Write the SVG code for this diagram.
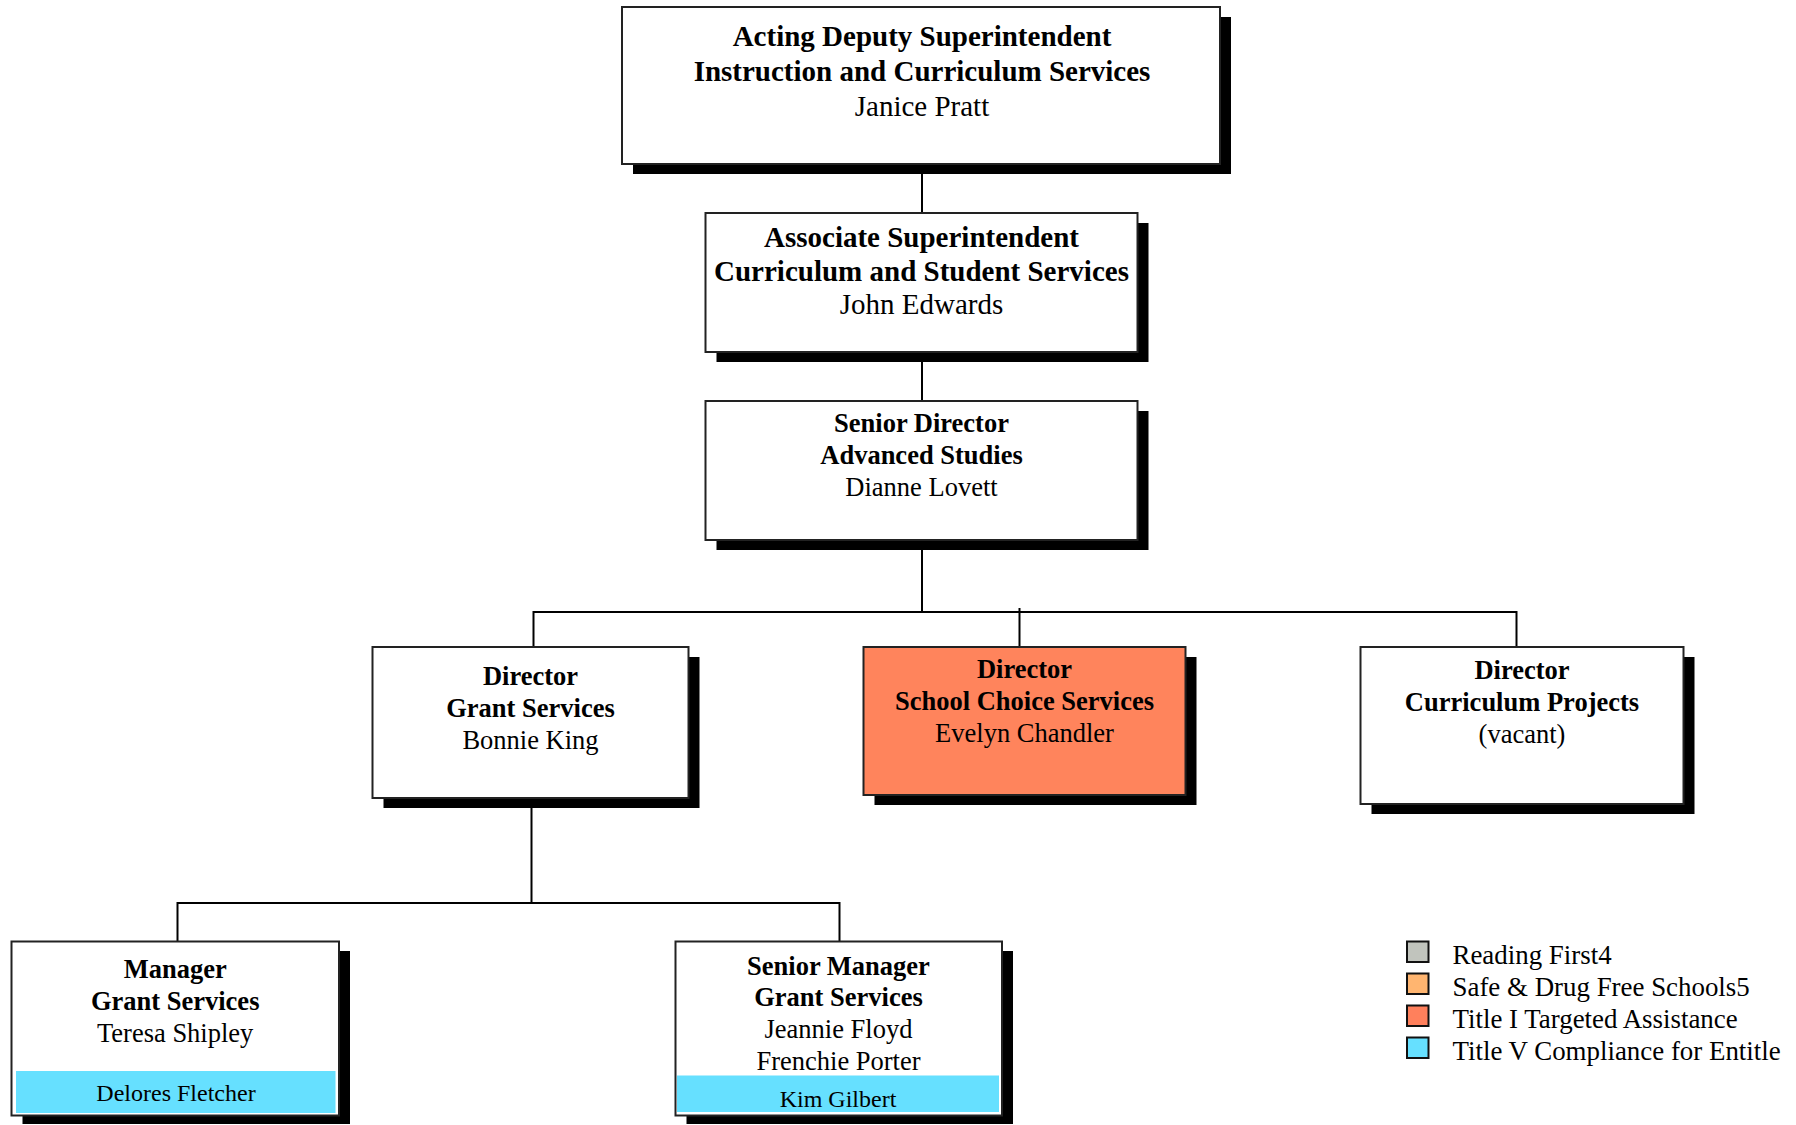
<svg xmlns="http://www.w3.org/2000/svg" width="1796" height="1125" viewBox="0 0 1796 1125">
<style>
.box{fill:#fff;stroke:#222;stroke-width:2}
.sh{fill:#000}
.t{font-family:"Liberation Serif","Times New Roman",serif;fill:#000;text-anchor:middle}
.b{font-weight:bold}
.big{font-size:29px}
.n{font-size:26.5px}
.s{font-size:24px}
.ln{stroke:#000;stroke-width:2;fill:none}
.lg{font-family:"Liberation Serif","Times New Roman",serif;font-size:26.9px;fill:#000}
.sw{stroke:#111;stroke-width:2}
</style>
<rect width="1796" height="1125" fill="#fff"/>
<g id="connectors">
<line class="ln" x1="922" y1="164" x2="922" y2="213"/>
<line class="ln" x1="922" y1="352" x2="922" y2="401"/>
<line class="ln" x1="922" y1="540" x2="922" y2="612"/>
<line class="ln" x1="533.5" y1="612" x2="1516.5" y2="612"/>
<line class="ln" x1="533.5" y1="611" x2="533.5" y2="647"/>
<line class="ln" x1="1019.5" y1="608" x2="1019.5" y2="647"/>
<line class="ln" x1="1516.5" y1="611" x2="1516.5" y2="647"/>
<line class="ln" x1="531.5" y1="808" x2="531.5" y2="903"/>
<line class="ln" x1="177.5" y1="903" x2="839.5" y2="903"/>
<line class="ln" x1="177.5" y1="902" x2="177.5" y2="941"/>
<line class="ln" x1="839.5" y1="902" x2="839.5" y2="941"/>
</g>
<g id="n1">
<rect class="sh" x="633" y="17" width="598" height="157"/>
<rect class="box" x="622" y="7" width="598" height="157"/>
<text class="t b big" x="922" y="46">Acting Deputy Superintendent</text>
<text class="t b big" x="922" y="80.5">Instruction and Curriculum Services</text>
<text class="t big" x="922" y="115.5">Janice Pratt</text>
</g>
<g id="n2">
<rect class="sh" x="716.5" y="223" width="432" height="139"/>
<rect class="box" x="705.5" y="213" width="432" height="139"/>
<text class="t b big" x="921.5" y="247">Associate Superintendent</text>
<text class="t b big" x="921.5" y="281">Curriculum and Student Services</text>
<text class="t big" x="921.5" y="314">John Edwards</text>
</g>
<g id="n3">
<rect class="sh" x="716.5" y="411" width="432" height="139"/>
<rect class="box" x="705.5" y="401" width="432" height="139"/>
<text class="t b n" x="921.5" y="431.5">Senior Director</text>
<text class="t b n" x="921.5" y="463.5">Advanced Studies</text>
<text class="t n" x="921.5" y="495.5">Dianne Lovett</text>
</g>
<g id="n4">
<rect class="sh" x="383.5" y="657" width="316" height="151"/>
<rect class="box" x="372.5" y="647" width="316" height="151"/>
<text class="t b n" x="530.5" y="684.5">Director</text>
<text class="t b n" x="530.5" y="716.5">Grant Services</text>
<text class="t n" x="530.5" y="748.5">Bonnie King</text>
</g>
<g id="n5">
<rect class="sh" x="874.5" y="657" width="322" height="148"/>
<rect class="box" x="863.5" y="647" width="322" height="148" style="fill:#FF845C"/>
<text class="t b n" x="1024.5" y="678">Director</text>
<text class="t b n" x="1024.5" y="710">School Choice Services</text>
<text class="t n" x="1024.5" y="742">Evelyn Chandler</text>
</g>
<g id="n6">
<rect class="sh" x="1371.5" y="657" width="323" height="157"/>
<rect class="box" x="1360.5" y="647" width="323" height="157"/>
<text class="t b n" x="1522" y="679">Director</text>
<text class="t b n" x="1522" y="711">Curriculum Projects</text>
<text class="t n" x="1522" y="743">(vacant)</text>
</g>
<g id="n7">
<rect class="sh" x="22.5" y="951" width="327.5" height="173"/>
<rect class="box" x="11.5" y="941.5" width="327.5" height="174"/>
<rect x="16" y="1071" width="319.5" height="42" fill="#66E0FF"/>
<text class="t b n" x="175.2" y="978">Manager</text>
<text class="t b n" x="175.2" y="1010">Grant Services</text>
<text class="t n" x="175.2" y="1042">Teresa Shipley</text>
<text class="t s" x="176" y="1100.5">Delores Fletcher</text>
</g>
<g id="n8">
<rect class="sh" x="686.5" y="951" width="326.5" height="173"/>
<rect class="box" x="675.5" y="941.5" width="326.5" height="174"/>
<rect x="677" y="1075.5" width="322" height="36.5" fill="#66E0FF"/>
<text class="t b n" x="838.5" y="974.5">Senior Manager</text>
<text class="t b n" x="838.5" y="1005.5">Grant Services</text>
<text class="t n" x="838.5" y="1037.5">Jeannie Floyd</text>
<text class="t n" x="838.5" y="1069.5">Frenchie Porter</text>
<text class="t s" x="838" y="1106.5">Kim Gilbert</text>
</g>
<g id="legend">
<rect class="sw" x="1407" y="941.5" width="21.5" height="20.5" fill="#C1C4BD"/>
<rect class="sw" x="1407" y="973.5" width="21.5" height="20.5" fill="#FFB570"/>
<rect class="sw" x="1407" y="1005.5" width="21.5" height="20.5" fill="#FF805C"/>
<rect class="sw" x="1407" y="1037.5" width="21.5" height="20.5" fill="#66E0FF"/>
<text class="lg" x="1452.5" y="964">Reading First4</text>
<text class="lg" x="1452.5" y="996">Safe &amp; Drug Free Schools5</text>
<text class="lg" x="1452.5" y="1028">Title I Targeted Assistance</text>
<text class="lg" x="1452.5" y="1060">Title V Compliance for Entitle</text>
</g>
</svg>
